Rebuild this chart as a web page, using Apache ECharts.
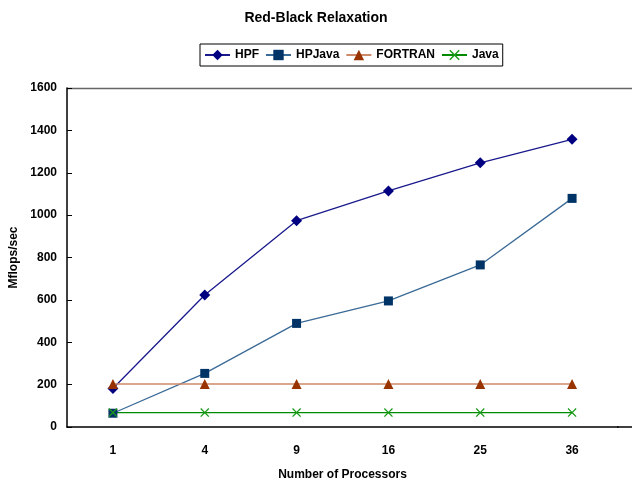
<!DOCTYPE html>
<html><head><meta charset="utf-8">
<script src="https://cdn.jsdelivr.net/npm/echarts@6/dist/echarts.min.js"></script>
<style>html,body{margin:0;padding:0;background:#fff}#c{width:632px;height:487px}</style>
</head><body><div id="c"></div>
<script>
const categories = ['1','4','9','16','25','36'];
const hpf = [182, 623, 974, 1114, 1247, 1358];
const hpjava = [65, 253, 489, 595, 765, 1079];
const fortran = [203, 203, 203, 203, 203, 203];
const java = [68, 68, 68, 68, 68, 68];
const yTicks = [0, 200, 400, 600, 800, 1000, 1200, 1400, 1600];

const F = 'Liberation Sans, Arial, sans-serif';
const xPath = 'path://M0,1L1,0L5,4L9,0L10,1L6,5L10,9L9,10L5,6L1,10L0,9L4,5Z';
const chart = echarts.init(document.getElementById('c'));
function s(name, data, lineColor, markColor, symbol, size) {
  return {name, type:'line', data, symbol, symbolSize:size, showSymbol:true,
    lineStyle:{color:lineColor, width:1.3}, itemStyle:{color:markColor, borderWidth:0},
    emphasis:{disabled:true}, animation:false};
}
chart.setOption({
  animation:false,
  backgroundColor:'#fff',
  title:{text:'Red-Black Relaxation', left:'center', top:6,
    textStyle:{fontFamily:F, fontSize:14, fontWeight:'bold', color:'#000'}},
  legend:{top:44, left:200, padding:[5,4,5,4], itemGap:6,
    borderColor:'#000', borderWidth:1, itemWidth:25, itemHeight:13,
    textStyle:{fontFamily:F, fontSize:12, fontWeight:'bold', color:'#000'},
    data:['HPF','HPJava','FORTRAN','Java']},
  grid:{left:67, right:14, top:88, bottom:60, containLabel:false, outerBoundsMode:'none'},
  graphic:[
    {type:'line', shape:{x1:67, y1:88.5, x2:632, y2:88.5}, style:{stroke:'#666', lineWidth:1.5}},
    {type:'line', shape:{x1:617, y1:427, x2:632, y2:427}, style:{stroke:'#000', lineWidth:1.5}}
  ],
  xAxis:{type:'category', data:categories, boundaryGap:true,
    name:'Number of Processors', nameLocation:'middle', nameGap:42,
    nameTextStyle:{fontFamily:F, fontSize:12, fontWeight:'bold', color:'#000'},
    axisLine:{lineStyle:{color:'#000', width:1.5}},
    axisTick:{inside:true, length:5, lineStyle:{color:'#000'}},
    axisLabel:{fontFamily:F, fontSize:12, fontWeight:'bold', color:'#000', margin:18},
    splitLine:{show:false}},
  yAxis:{type:'value', min:yTicks[0], max:yTicks[yTicks.length-1], interval:200,
    name:'Mflops/sec', nameLocation:'middle', nameGap:46, nameRotate:90,
    nameTextStyle:{fontFamily:F, fontSize:12, fontWeight:'bold', color:'#000'},
    axisLine:{show:true, lineStyle:{color:'#000', width:1.5}},
    axisTick:{show:true, inside:true, length:5, lineStyle:{color:'#000'}},
    axisLabel:{fontFamily:F, fontSize:12, fontWeight:'bold', color:'#000', margin:10,
      formatter: v => String(v)},
    splitLine:{show:false}},
  series:[
    s('HPF', hpf, '#1a1a8c', '#000080', 'diamond', 11),
    s('HPJava', hpjava, '#3a6a96', '#003366', 'rect', 9),
    s('FORTRAN', fortran, '#cc8a6a', '#993300', 'triangle', 10),
    s('Java', java, '#008a00', '#1a9a1a', xPath, 9)
  ]
});
</script></body></html>
